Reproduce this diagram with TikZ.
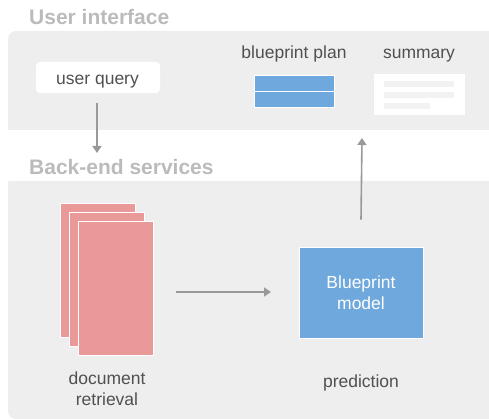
\documentclass[tikz,border=0pt]{standalone}
\usepackage{fontspec}
\setmainfont{Liberation Sans}
\usetikzlibrary{arrows.meta}
\definecolor{panel}{HTML}{EEEEEE}
\definecolor{bpblue}{HTML}{6FA8DC}
\definecolor{pink}{HTML}{EA9999}
\definecolor{txt}{HTML}{505050}
\definecolor{head}{HTML}{BBBBBB}
\definecolor{arr}{HTML}{999999}
\definecolor{lineg}{HTML}{F2F2F2}
\tikzset{
  header/.style={font=\fontsize{21}{24}\selectfont\bfseries, text=head, anchor=west, inner sep=0},
  label/.style={font=\fontsize{17.5}{21}\selectfont, text=txt, align=center, inner sep=0},
  conn/.style={draw=arr, line width=1.6pt, -{Triangle[length=7pt,width=9pt]}},
  page/.style={fill=pink, draw=white, line width=0.8pt},
}
\begin{document}
\begin{tikzpicture}[x=1pt,y=-1pt]
\useasboundingbox (0,0) rectangle (489,419);
% panels
\fill[panel, rounded corners=8pt] (8,130) -- (8,31) -- (500,31) -- (500,130) -- cycle;
\fill[panel] (8,130) rectangle (500,100);
\fill[panel, rounded corners=8pt] (8,181) -- (8,419) -- (500,419) -- (500,181) -- cycle;
\fill[panel] (8,181) rectangle (500,220);
\node[header] (hui) at (29,17) {User interface};
\node[header] (hbe) at (29,167) {Back-end services};
% user query
\node[fill=white, rounded corners=4pt, minimum width=124pt, minimum height=31pt, inner sep=0] (uq) at (98,77.5) {};
\node[label, anchor=base] (uqt) at (97.5,84.5) {user query};
% blueprint plan
\node[label, anchor=base] (bpl) at (294,59) {blueprint plan};
\node[fill=bpblue, draw=white, line width=0.7pt, minimum width=80pt, minimum height=16pt, inner sep=0] (bp1) at (294.5,83) {};
\node[fill=bpblue, draw=white, line width=0.7pt, minimum width=80pt, minimum height=16pt, inner sep=0] (bp2) at (294.5,99) {};
% summary
\node[label, anchor=base] (suml) at (419,59) {summary};
\node[fill=white, minimum width=91pt, minimum height=41pt, inner sep=0] (sum) at (419.5,94.5) {};
\fill[lineg] (384,81) rectangle (454,87);
\fill[lineg] (384,92) rectangle (454,98);
\fill[lineg] (384,103) rectangle (430,109);
% documents
\node[page, minimum width=75pt, minimum height=134pt, inner sep=0] (d1) at (97.5,270) {};
\node[page, minimum width=75pt, minimum height=134pt, inner sep=0] (d2) at (107,279) {};
\node[page, minimum width=75pt, minimum height=134pt, inner sep=0] (d3) at (116,288) {};
\node[label] (dl) at (107,389) {document\\retrieval};
% model
\node[fill=bpblue, draw=white, line width=0.7pt, minimum width=124pt, minimum height=91pt, inner sep=0] (bm) at (361,292.5) {};
\node[label, text=white] (bmt) at (361,293) {Blueprint\\model};
\node[label, anchor=base] (pl) at (361,387) {prediction};
% arrows
\coordinate (hs) at (176,292);
\coordinate (he) at (271,292);
\draw[conn] (hs) -- (he);
\draw[conn] (97,103) -- (97,153);
\draw[conn] (bm.north) ++(0,-27) -- (362,138);
\end{tikzpicture}
\end{document}
